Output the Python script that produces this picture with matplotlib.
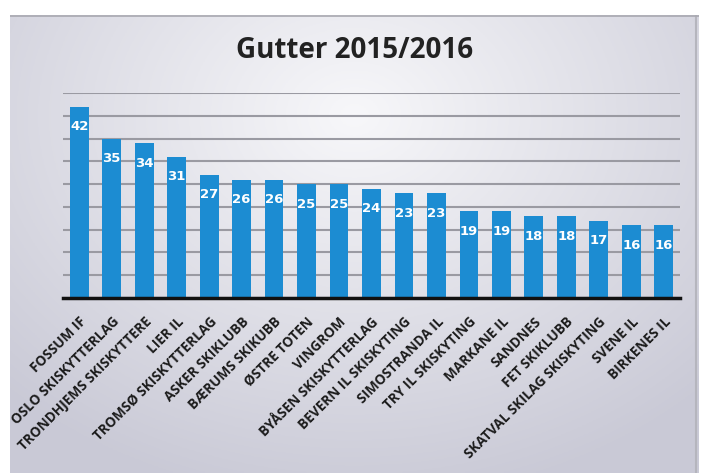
import numpy as np
import matplotlib
matplotlib.use("Agg")
import matplotlib.pyplot as plt

clubs = ["FOSSUM IF", "OSLO SKISKYTTERLAG", "TRONDHJEMS SKISKYTTERE", "LIER IL",
         "TROMSØ SKISKYTTERLAG", "ASKER SKIKLUBB", "BÆRUMS SKIKUBB", "ØSTRE TOTEN",
         "VINGROM", "BYÅSEN SKISKYTTERLAG", "BEVERN IL SKISKYTING", "SIMOSTRANDA IL",
         "TRY IL SKISKYTING", "MARKANE IL", "SANDNES", "FET SKIKLUBB",
         "SKATVAL SKILAG SKISKYTING", "SVENE IL", "BIRKENES IL"]
values = [42, 35, 34, 31, 27, 26, 26, 25, 25, 24, 23, 23, 19, 19, 18, 18, 17, 16, 16]
title = "Gutter 2015/2016"
y_ticks = [0, 5, 10, 15, 20, 25, 30, 35, 40, 45]

W, H = 706, 473
fig = plt.figure(figsize=(W / 100, H / 100), dpi=100)
fig.patch.set_facecolor("white")

# background panel with soft gradient
bg = fig.add_axes([10 / W, 0, (699 - 10) / W, (473 - 15) / H])
yy, xx = np.mgrid[0:1:200j, 0:1:300j]
r = np.sqrt(((xx - 0.5) / 0.72) ** 2 + ((yy - 0.22) / 0.85) ** 2)
r = np.clip(r, 0, 1)
c0 = np.array([0.97, 0.97, 0.98])
c1 = np.array([0.79, 0.79, 0.84])
img = c0[None, None, :] * (1 - r[..., None]) + c1[None, None, :] * r[..., None]
bg.imshow(img, aspect="auto", extent=[0, 1, 1, 0])
bg.set_axis_off()
bg.plot([0.995, 0.995], [0, 1], color="#b5b5bd", lw=1.5, transform=bg.transAxes)
bg.plot([0, 1], [0.998, 0.998], color="#a8a8b0", lw=1.2, transform=bg.transAxes)

ax = fig.add_axes([63 / W, 1 - 298 / H, (680 - 63) / W, (298 - 93) / H])
ax.patch.set_alpha(0)
x = np.arange(len(clubs))
ax.bar(x, values, width=0.58, color="#1c8cd2", zorder=3)
ax.set_xlim(-0.5, len(clubs) - 0.5)
ax.set_ylim(0, 45)
ax.set_yticks(y_ticks)
ax.yaxis.grid(True, color="#9a9aa2", lw=1.5, zorder=1)
ax.tick_params(axis="y", length=0, labelleft=False)
ax.tick_params(axis="x", length=0, pad=12)
for s in ["top", "right", "left"]:
    ax.spines[s].set_visible(False)
ax.spines["bottom"].set_color("#111111")
ax.spines["bottom"].set_linewidth(2.5)
ax.spines["bottom"].set_zorder(4)
ax.set_xticks(x)
ax.set_xticklabels(clubs, rotation=45, ha="right", va="top", rotation_mode="anchor",
                   fontsize=9.8, fontweight="bold", color="#1c1c1c", family="Open Sans")

for xi, v in zip(x, values):
    ax.annotate(str(v), (xi, v), xytext=(0, -20), textcoords="offset pixels",
                ha="center", va="center", color="white", fontsize=9.5,
                fontweight="bold", zorder=5)

fig.text(355 / W, 1 - 50 / H, title, ha="center", va="center", fontsize=20,
         fontweight="bold", color="#222222", family="Open Sans")

fig.savefig("out.png", dpi=100)
